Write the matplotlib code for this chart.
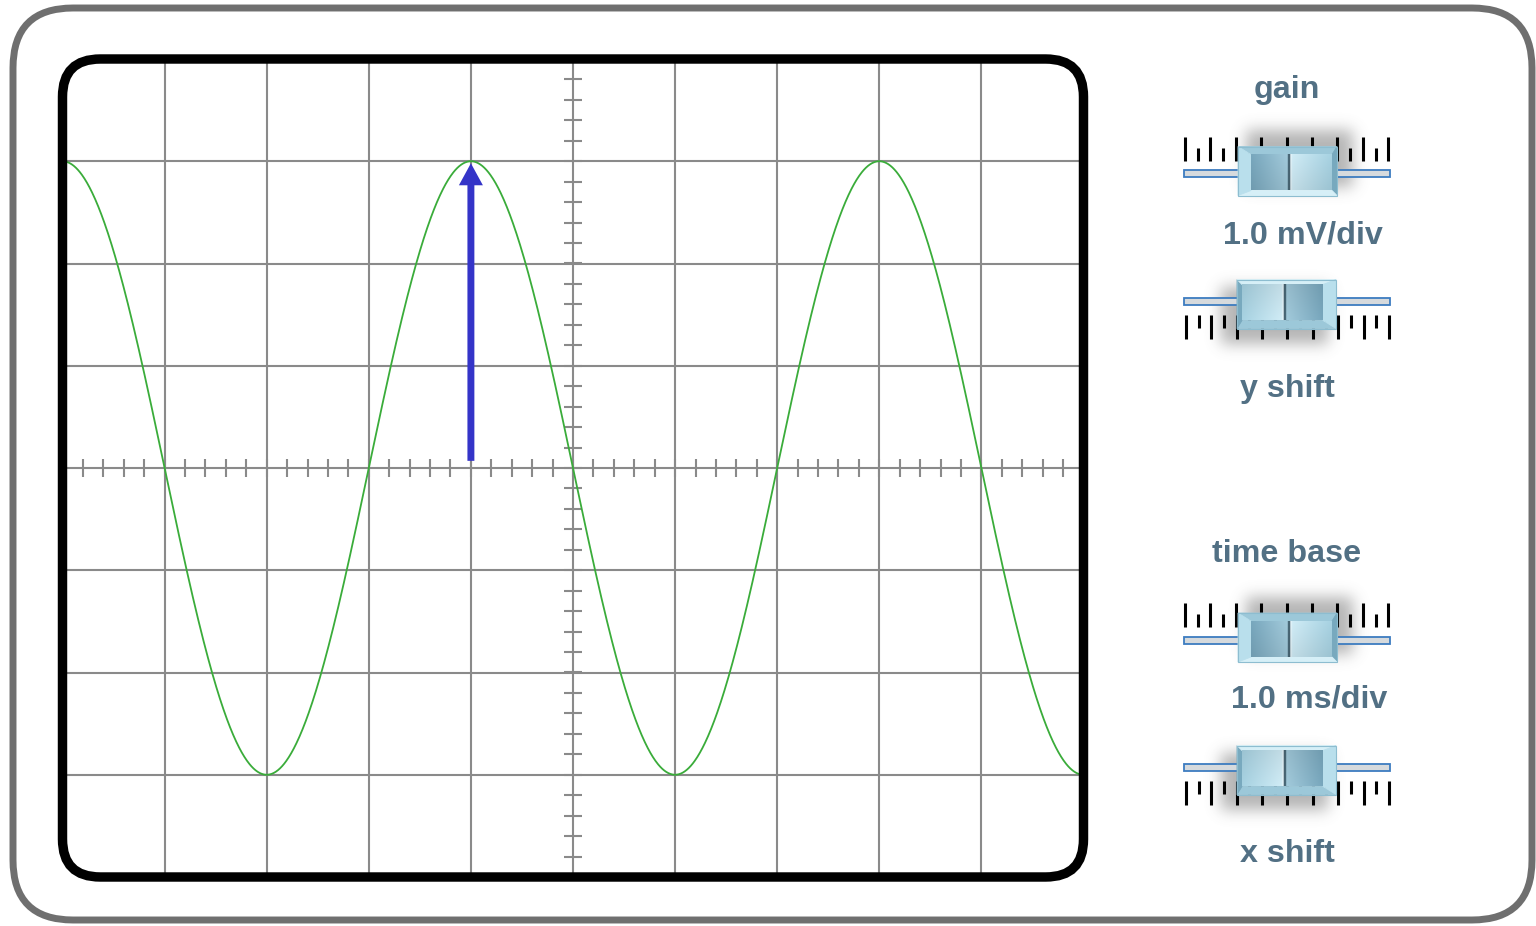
"""
Oscilloscope screen with a sine trace, the amplitude arrow and the gain / time base controls.
"""

import numpy as np
import matplotlib as mpl
from matplotlib import pyplot as plt
from matplotlib.patches import FancyBboxPatch, Polygon
from matplotlib.colors import LinearSegmentedColormap

WIDTH_PX, HEIGHT_PX = 1536, 926
DPI = 100

# signal shown on the screen
GAIN_MV_PER_DIV = 1.0
TIMEBASE_MS_PER_DIV = 1.0
SIGNAL_AMPLITUDE_MV = 3.0
SIGNAL_PERIOD_MS = 4.0
SIGNAL_CREST_MS = -1.0
ARROW_FROM_MV = 0.07
ARROW_TO_MV = 2.98

X_DIVS = 10
Y_DIVS = 8

CONTROL_LABELS = [
    "gain",
    f"{GAIN_MV_PER_DIV:.1f} mV/div",
    "y shift",
    "time base",
    f"{TIMEBASE_MS_PER_DIV:.1f} ms/div",
    "x shift",
]

# layout (pixels, y down)
LABEL_POS = [(1287, 90), (1303, 236), (1287, 389), (1287, 554), (1309, 700), (1287, 854)]
SLIDERS = [(1287, 173.5, True), (1287, 301.5, False), (1287, 640, True), (1287, 767.5, False)]
SCREEN_PX = (62.5, 59, 1083.5, 877)  # left, top, right, bottom

GRID_COLOR = "#8a8a8a"
TRACE_COLOR = "#3aac3a"
ARROW_COLOR = "#3434c8"
TEXT_COLOR = "#527084"
FRAME_COLOR = "#6f6f6f"

RCPARAMS = {
    "font.family": ["Liberation Sans", "DejaVu Sans"],
    "font.weight": "bold",
}


def gauss_blur(a, sigma):
    r = int(3 * sigma)
    k = np.exp(-0.5 * (np.arange(-r, r + 1) / sigma) ** 2)
    k /= k.sum()
    a = np.apply_along_axis(lambda m: np.convolve(m, k, mode="same"), 0, a)
    a = np.apply_along_axis(lambda m: np.convolve(m, k, mode="same"), 1, a)
    return a


def draw_slider(ax, cx, ty, up):
    s = 1 if up else -1

    def tr(pts):
        return [(cx + s * u, ty + s * v) for u, v in pts]

    # soft shadow behind the knob
    u0, u1, v0, v1 = -90, 110, -80, 50
    uu, vv = np.meshgrid(np.arange(u0, u1), np.arange(v0, v1))
    mask = ((uu > -42) & (uu < 66) & (vv > -44) & (vv < 14)).astype(float)
    alpha = gauss_blur(mask, 7.5) * 0.5
    rgba = np.zeros(alpha.shape + (4,))
    rgba[..., :3] = 0.42
    rgba[..., 3] = alpha
    if not up:
        rgba = rgba[::-1, ::-1]
    xs = sorted([cx + s * u0, cx + s * u1])
    ys = sorted([ty + s * v0, ty + s * v1])
    ax.imshow(rgba, extent=[xs[0], xs[1], ys[1], ys[0]], origin="upper",
              aspect="auto", interpolation="bilinear", zorder=1)

    # track
    ax.add_patch(Polygon(tr([(-103, -3.5), (103, -3.5), (103, 3.5), (-103, 3.5)]),
                         closed=True, fc="#d6dadd", ec="#3d7cc0", lw=1.3, zorder=2))

    # tick marks
    for i in range(17):
        u = -102 + 12.7 * i
        top = -37 if i % 2 == 0 else -26
        (p0, p1) = tr([(u, top), (u, -13)])
        ax.plot([p0[0], p1[0]], [p0[1], p1[1]], color="black", lw=2.2,
                solid_capstyle="butt", zorder=3)

    # knob bevels
    A, B, C, D = (-49, -27), (50, -27), (50, 22), (-49, 22)
    a, b, c, d = (-36, -19), (45, -19), (45, 17), (-36, 17)
    bevels = [
        ([A, B, b, a], "#9cc8d9"),
        ([B, C, c, b], "#78a9be"),
        ([D, C, c, d], "#d6eff7"),
        ([A, a, d, D], "#b9dfec"),
    ]
    for pts, col in bevels:
        ax.add_patch(Polygon(tr(pts), closed=True, fc=col, ec=col, lw=0.6, zorder=4))

    # knob face gradient
    cmap = LinearSegmentedColormap.from_list(
        "knob",
        [(0.0, "#78a7bd"), (0.45, "#a2cadb"), (0.46, "#3b5968"),
         (0.48, "#3b5968"), (0.49, "#eef9fd"), (0.51, "#d0ecf6"), (1.0, "#a7d2e2")],
    )
    grad = cmap(np.linspace(0, 1, 240))[None, :, :]
    shade = np.linspace(1.0, 0.93, 30)[:, None, None]
    grad = np.repeat(grad, 30, axis=0)
    grad[..., :3] *= shade
    if not up:
        grad = grad[::-1, ::-1]
    fx = sorted([cx + s * a[0], cx + s * b[0]])
    fy = sorted([ty + s * a[1], ty + s * c[1]])
    ax.imshow(grad, extent=[fx[0], fx[1], fy[1], fy[0]], origin="upper",
              aspect="auto", interpolation="bilinear", zorder=5)
    ax.add_patch(Polygon(tr([A, B, C, D]), closed=True, fill=False,
                         ec="#8dbdd0", lw=0.8, zorder=6))


def main():
    for key in RCPARAMS:
        mpl.rcParams[key] = RCPARAMS[key]

    fig = plt.figure(figsize=(WIDTH_PX / DPI, HEIGHT_PX / DPI), dpi=DPI)

    # background: outer case, controls
    bg = fig.add_axes([0, 0, 1, 1])
    bg.set_xlim(0, WIDTH_PX)
    bg.set_ylim(HEIGHT_PX, 0)
    bg.axis("off")
    bg.add_patch(FancyBboxPatch((13, 8), 1519, 912,
                                boxstyle="round,pad=0,rounding_size=60",
                                fc="white", ec=FRAME_COLOR, lw=5, zorder=0))
    for cx, ty, up in SLIDERS:
        draw_slider(bg, cx, ty, up)
    for label, (x, y) in zip(CONTROL_LABELS, LABEL_POS):
        bg.text(x, y, label, ha="center", va="center", fontsize=23.2,
                fontweight="bold", color=TEXT_COLOR, zorder=7)
    bg.set_xlim(0, WIDTH_PX)
    bg.set_ylim(HEIGHT_PX, 0)

    # screen
    l, t, r, b = SCREEN_PX
    ax = fig.add_axes([l / WIDTH_PX, 1 - b / HEIGHT_PX,
                       (r - l) / WIDTH_PX, (b - t) / HEIGHT_PX])
    ax.set_xlim(-X_DIVS / 2, X_DIVS / 2)
    ax.set_ylim(-Y_DIVS / 2, Y_DIVS / 2)
    ax.axis("off")
    ax.patch.set_alpha(0)

    for i in range(-X_DIVS // 2 + 1, X_DIVS // 2):
        ax.axvline(i, color=GRID_COLOR, lw=1.5, zorder=1)
    for j in range(-Y_DIVS // 2 + 1, Y_DIVS // 2):
        ax.axhline(j, color=GRID_COLOR, lw=1.5, zorder=1)
    xt = np.arange(-X_DIVS / 2, X_DIVS / 2 + 0.01, 0.2)
    yt = np.arange(-Y_DIVS / 2, Y_DIVS / 2 + 0.01, 0.2)
    ax.vlines(xt[1:-1], -0.09, 0.09, color=GRID_COLOR, lw=1.5, zorder=1)
    ax.hlines(yt[1:-1], -0.09, 0.09, color=GRID_COLOR, lw=1.5, zorder=1)

    t_ms = np.linspace(-X_DIVS / 2, X_DIVS / 2, 2000) * TIMEBASE_MS_PER_DIV
    v_mv = SIGNAL_AMPLITUDE_MV * np.cos(2 * np.pi * (t_ms - SIGNAL_CREST_MS) / SIGNAL_PERIOD_MS)
    ax.plot(t_ms / TIMEBASE_MS_PER_DIV, v_mv / GAIN_MV_PER_DIV,
            color=TRACE_COLOR, lw=1.3, zorder=3)

    y0 = ARROW_FROM_MV / GAIN_MV_PER_DIV
    y1 = ARROW_TO_MV / GAIN_MV_PER_DIV
    ax.arrow(SIGNAL_CREST_MS / TIMEBASE_MS_PER_DIV, y0, 0, y1 - y0,
             width=0.068, head_width=0.235, head_length=0.215,
             length_includes_head=True, color=ARROW_COLOR, lw=0, zorder=4)

    ax.add_patch(FancyBboxPatch((-X_DIVS / 2, -Y_DIVS / 2), X_DIVS, Y_DIVS,
                                boxstyle="round,pad=0,rounding_size=0.37",
                                fill=False, ec="black", lw=6.8,
                                clip_on=False, zorder=6))

    fig.savefig("out.png", dpi=DPI)
    plt.close(fig=fig)


if __name__ == "__main__":
    main()
